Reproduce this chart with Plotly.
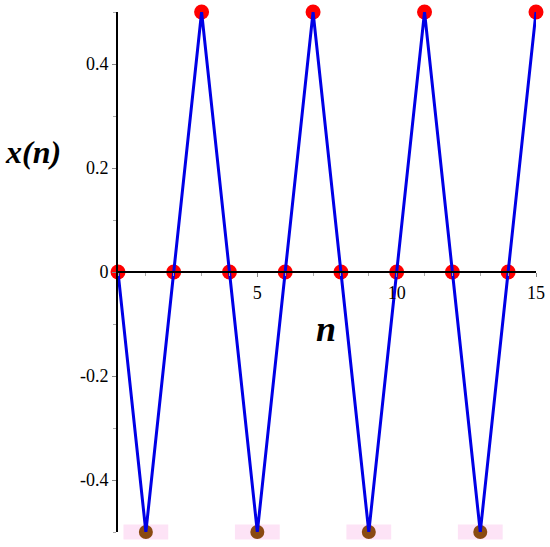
import plotly.graph_objects as go

# sequence x(n) for n = 0..15
n_vals = list(range(16))
x_vals = [0, -0.5, 0, 0.5, 0, -0.5, 0, 0.5, 0, -0.5, 0, 0.5, 0, -0.5, 0, 0.5]

# tick labels
x_tickvals = [5, 10, 15]
x_ticktext = ["5", "10", "15"]
y_tickvals = [-0.4, -0.2, 0, 0.2, 0.4]
y_ticktext = ["-0.4", "-0.2", "0", "0.2", "0.4"]

# split points by value for the marker colours
neg_n = [n for n, v in zip(n_vals, x_vals) if v < 0]
neg_v = [v for v in x_vals if v < 0]
other_n = [n for n, v in zip(n_vals, x_vals) if v >= 0]
other_v = [v for v in x_vals if v >= 0]

serif = "Liberation Serif, Times New Roman, serif"

fig = go.Figure()

# pink highlight behind the negative samples
fig.add_trace(go.Scatter(
    x=neg_n, y=neg_v, mode="markers", cliponaxis=False,
    marker=dict(symbol="line-ew", size=32, line=dict(width=15, color="#fde3f6")),
    hoverinfo="skip", showlegend=False,
))

fig.add_trace(go.Scatter(
    x=neg_n, y=neg_v, mode="markers", cliponaxis=False,
    marker=dict(size=14, color="#8a4a12"),
    showlegend=False,
))

fig.add_trace(go.Scatter(
    x=other_n, y=other_v, mode="markers", cliponaxis=False,
    marker=dict(size=15, color="#ff0000"),
    showlegend=False,
))

# connecting line on top of the markers
fig.add_trace(go.Scatter(
    x=n_vals, y=x_vals, mode="lines", cliponaxis=False,
    line=dict(color="#0000e6", width=3),
    showlegend=False,
))

fig.update_layout(
    width=550, height=547,
    margin=dict(l=118, r=14, t=12, b=15),
    plot_bgcolor="white", paper_bgcolor="white",
    font=dict(family=serif, size=17, color="black"),
    xaxis=dict(
        range=[0, 15], anchor="free", position=0.5, automargin=False,
        showline=True, linecolor="black", linewidth=2,
        showgrid=False, zeroline=False,
        tickvals=x_tickvals, ticktext=x_ticktext,
        ticks="outside", ticklen=4, tickcolor="#888888",
        minor=dict(dtick=1, ticks="outside", ticklen=3, tickcolor="#aaaaaa"),
        tickfont=dict(family=serif, size=18),
    ),
    yaxis=dict(
        range=[-0.5, 0.5], automargin=False,
        showline=True, linecolor="black", linewidth=2,
        showgrid=False, zeroline=False,
        tickvals=y_tickvals, ticktext=y_ticktext,
        ticks="outside", ticklen=4, tickcolor="#888888",
        minor=dict(dtick=0.1, ticks="outside", ticklen=3, tickcolor="#aaaaaa"),
        tickfont=dict(family=serif, size=18),
    ),
    annotations=[
        dict(text="<b><i>x(n)</i></b>", xref="paper", yref="paper",
             x=-0.203, y=0.731, xanchor="center", yanchor="middle",
             showarrow=False,
             font=dict(family=serif, size=32, color="black")),
        dict(text="<b><i>n</i></b>", xref="paper", yref="paper",
             x=0.498, y=0.39, xanchor="center", yanchor="middle",
             showarrow=False,
             font=dict(family=serif, size=36, color="black")),
    ],
)

# drop the browser's default body margin so the figure sits at the corner
fig.write_html(
    "out.html",
    config={"displayModeBar": False, "responsive": False},
    post_script="document.body.style.margin = '0'; document.body.style.overflow = 'hidden';",
)
